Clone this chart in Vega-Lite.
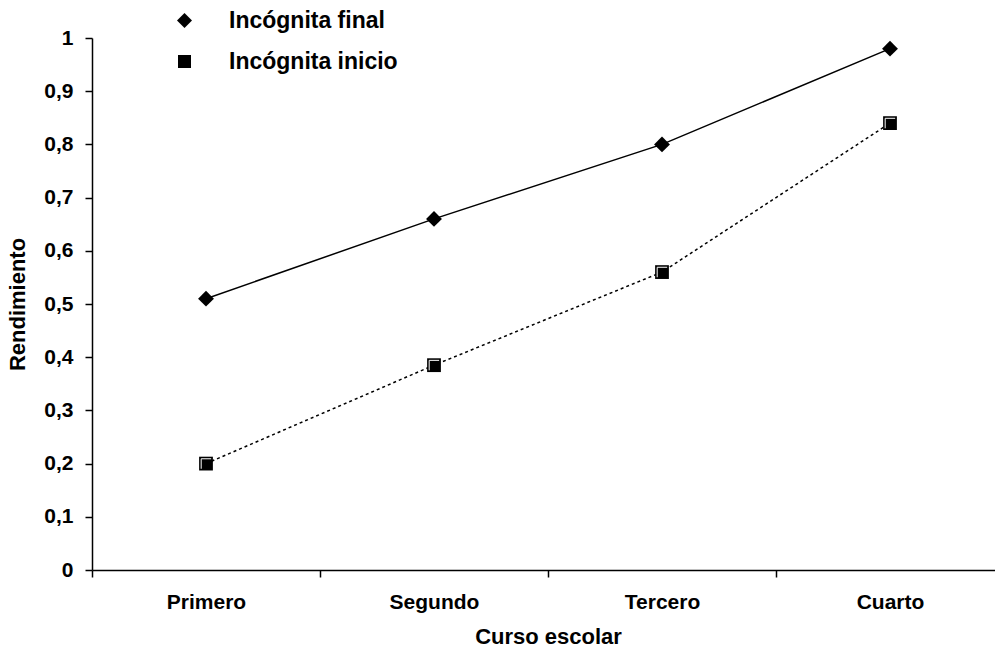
{
  "$schema": "https://vega.github.io/schema/vega-lite/v6.json",
  "width": 912,
  "height": 532,
  "autosize": {"type": "none"},
  "padding": {"left": 92, "top": 38, "right": 0, "bottom": 80},
  "background": "white",
  "config": {
    "view": {"stroke": null},
    "font": "Liberation Sans",
    "axis": {
      "domainColor": "black",
      "domainWidth": 1.5,
      "tickColor": "black",
      "tickWidth": 1.5,
      "tickSize": 7,
      "grid": false,
      "labelColor": "black",
      "labelFont": "Liberation Sans",
      "labelFontWeight": "bold",
      "labelFontSize": 21,
      "titleColor": "black",
      "titleFont": "Liberation Sans",
      "titleFontWeight": "bold",
      "titleFontSize": 22
    }
  },
  "data": {
    "values": [
      {"curso": "Primero", "serie": "Incógnita final", "rendimiento": 0.51},
      {"curso": "Segundo", "serie": "Incógnita final", "rendimiento": 0.66},
      {"curso": "Tercero", "serie": "Incógnita final", "rendimiento": 0.80},
      {"curso": "Cuarto", "serie": "Incógnita final", "rendimiento": 0.98},
      {"curso": "Primero", "serie": "Incógnita inicio", "rendimiento": 0.20},
      {"curso": "Segundo", "serie": "Incógnita inicio", "rendimiento": 0.385},
      {"curso": "Tercero", "serie": "Incógnita inicio", "rendimiento": 0.56},
      {"curso": "Cuarto", "serie": "Incógnita inicio", "rendimiento": 0.84}
    ]
  },
  "encoding": {
    "x": {
      "field": "curso",
      "type": "nominal",
      "sort": ["Primero", "Segundo", "Tercero", "Cuarto"],
      "scale": {"type": "band", "paddingInner": 0, "paddingOuter": 0},
      "axis": {
        "title": "Curso escolar",
        "labelAngle": 0,
        "tickBand": "extent",
        "labelPadding": 14,
        "titlePadding": 14
      }
    },
    "y": {
      "field": "rendimiento",
      "type": "quantitative",
      "scale": {"domain": [0, 1], "nice": false, "zero": true},
      "axis": {
        "title": "Rendimiento",
        "values": [0, 0.1, 0.2, 0.3, 0.4, 0.5, 0.6, 0.7, 0.8, 0.9, 1],
        "format": ".1~f",
        "labelExpr": "replace(datum.label, '.', ',')",
        "labelPadding": 12,
        "titlePadding": 14
      }
    }
  },
  "layer": [
    {
      "transform": [{"filter": "datum.serie === 'Incógnita final'"}],
      "mark": {"type": "line", "color": "black", "strokeWidth": 1.5},
      "encoding": {}
    },
    {
      "transform": [{"filter": "datum.serie === 'Incógnita inicio'"}],
      "mark": {"type": "line", "color": "black", "strokeWidth": 1.5, "strokeDash": [3, 3]},
      "encoding": {}
    },
    {
      "mark": {"type": "point", "filled": true, "color": "black", "opacity": 1, "size": 190},
      "encoding": {
        "shape": {
          "field": "serie",
          "type": "nominal",
          "scale": {
            "domain": ["Incógnita final", "Incógnita inicio"],
            "range": ["M-1.15,0L0,-1.15L1.15,0L0,1.15Z", "square"]
          },
          "legend": {
            "title": null,
            "orient": "none",
            "legendX": 81,
            "legendY": -29,
            "padding": 0,
            "rowPadding": 17,
            "symbolOffset": 0,
            "labelOffset": 33,
            "labelLimit": 400,
            "symbolSize": 169,
            "labelFont": "Liberation Sans",
            "labelFontWeight": "bold",
            "labelFontSize": 23,
            "labelColor": "black",
            "labelBaseline": "middle"
          }
        }
      }
    },
    {
      "transform": [{"filter": "datum.serie === 'Incógnita inicio'"}],
      "mark": {
        "type": "point",
        "filled": false,
        "shape": "M-0.7,0.75L-0.7,-0.7L0.75,-0.7",
        "size": 190,
        "stroke": "white",
        "strokeWidth": 1,
        "opacity": 1
      },
      "encoding": {}
    }
  ]
}
